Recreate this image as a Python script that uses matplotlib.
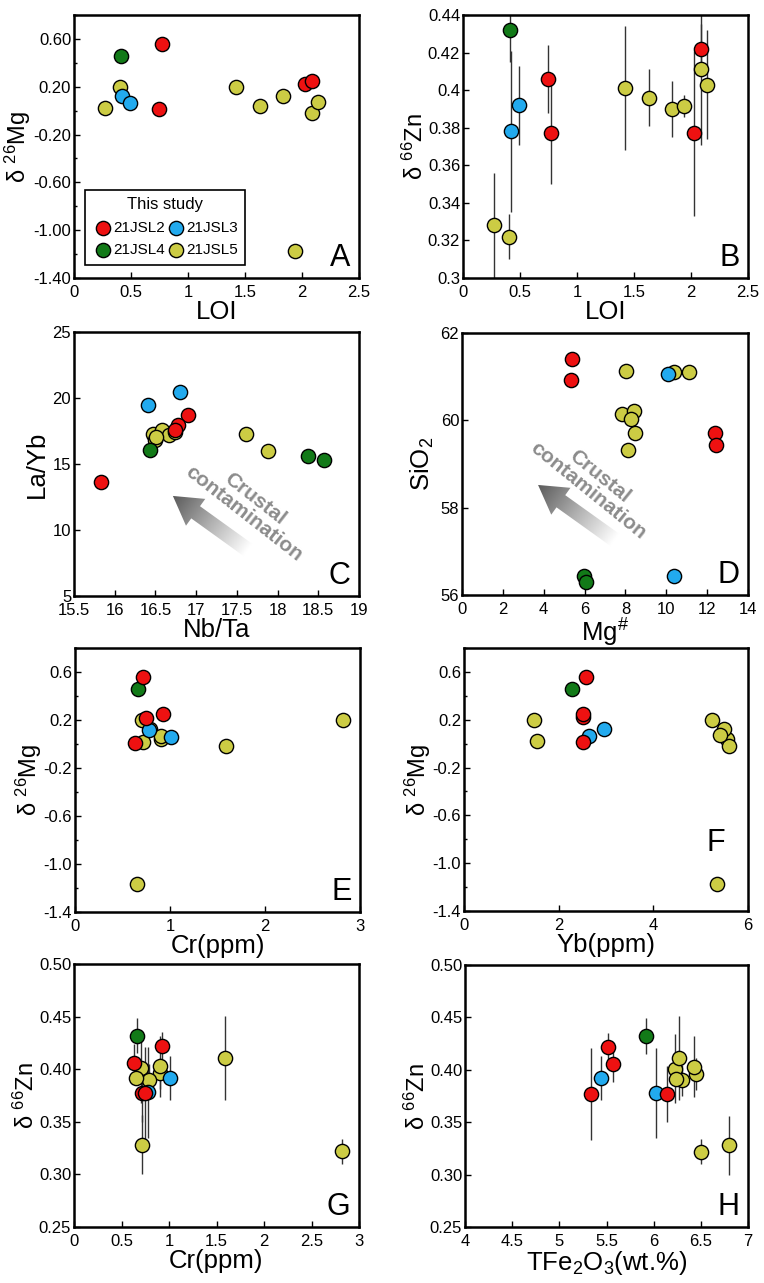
import numpy as np
import matplotlib
matplotlib.use("Agg")
import matplotlib.pyplot as plt
from matplotlib.patches import Polygon
from matplotlib.colors import LinearSegmentedColormap
from matplotlib.ticker import MultipleLocator, FuncFormatter

plt.rcParams['font.family'] = ['Liberation Sans', 'DejaVu Sans']
plt.rcParams['mathtext.fontset'] = 'custom'
plt.rcParams['mathtext.rm'] = 'Liberation Sans'
plt.rcParams['mathtext.it'] = 'Liberation Sans'
plt.rcParams['mathtext.default'] = 'regular'

# sample colours
RED = '#ee1111'
BLUE = '#22aaee'
GREEN = '#127a18'
YELLOW = '#cccc44'

# samples with isotope data (A, B, E, F, G, H)
red_loi = [0.77, 0.745, 2.03, 2.09]
red_mg = [0.56, 0.01, 0.22, 0.25]
red_zn = [0.377, 0.406, 0.377, 0.422]
red_zn_err = [0.027, 0.018, 0.044, 0.013]
red_cr = [0.72, 0.63, 0.75, 0.93]
red_yb = [2.57, 2.51, 2.52, 2.52]
red_fe = [6.14, 5.57, 5.34, 5.52]

green_loi = [0.41]
green_mg = [0.46]
green_zn = [0.432]
green_zn_err = [0.017]
green_cr = [0.66]
green_yb = [2.29]
green_fe = [5.92]

blue_loi = [0.42, 0.49]
blue_mg = [0.12, 0.06]
blue_zn = [0.378, 0.392]
blue_zn_err = [0.043, 0.021]
blue_cr = [0.78, 1.01]
blue_yb = [2.96, 2.64]
blue_fe = [6.02, 5.44]

yellow_loi = [0.27, 0.40, 1.42, 1.63, 1.83, 1.94, 2.09, 2.14]
yellow_mg = [0.02, 0.20, 0.20, 0.04, 0.125, -1.17, -0.02, 0.07]
yellow_zn = [0.328, 0.322, 0.401, 0.396, 0.390, 0.3916, 0.411, 0.403]
yellow_zn_err = [0.028, 0.012, 0.033, 0.015, 0.015, 0.006, 0.040, 0.029]
yellow_cr = [0.72, 2.82, 0.71, 0.91, 0.79, 0.65, 1.59, 0.91]
yellow_yb = [1.55, 1.47, 5.23, 5.55, 5.50, 5.34, 5.60, 5.40]
yellow_fe = [6.80, 6.50, 6.23, 6.45, 6.30, 6.24, 6.27, 6.43]

# Nb/Ta vs La/Yb (panel C)
c_red_x = [15.83, 16.90, 16.78, 16.74]
c_red_y = [13.6, 18.7, 17.95, 17.6]
c_blue_x = [16.41, 16.80]
c_blue_y = [19.45, 20.45]
c_green_x = [16.43, 18.37, 18.57]
c_green_y = [16.05, 15.6, 15.33]
c_yellow_x = [17.61, 17.88, 16.47, 16.50, 16.58, 16.67, 16.74, 16.51]
c_yellow_y = [17.3, 15.95, 17.25, 16.85, 17.55, 17.2, 17.4, 17.05]

# Mg# vs SiO2 (panel D)
d_red_x = [5.38, 5.32, 12.37, 12.45]
d_red_y = [61.40, 60.93, 59.70, 59.43]
d_blue_x = [10.10, 10.39]
d_blue_y = [61.05, 56.44]
d_green_x = [5.95, 6.08]
d_green_y = [56.44, 56.29]
d_yellow_x = [8.04, 10.36, 11.09, 7.83, 8.40, 8.29, 8.45, 8.12]
d_yellow_y = [61.12, 61.11, 61.11, 60.15, 60.21, 60.03, 59.70, 59.32]

groups = [
    dict(name='21JSL5', color=YELLOW, loi=yellow_loi, mg=yellow_mg, zn=yellow_zn, err=yellow_zn_err,
         cr=yellow_cr, yb=yellow_yb, fe=yellow_fe, cx=c_yellow_x, cy=c_yellow_y, dx=d_yellow_x, dy=d_yellow_y),
    dict(name='21JSL3', color=BLUE, loi=blue_loi, mg=blue_mg, zn=blue_zn, err=blue_zn_err,
         cr=blue_cr, yb=blue_yb, fe=blue_fe, cx=c_blue_x, cy=c_blue_y, dx=d_blue_x, dy=d_blue_y),
    dict(name='21JSL4', color=GREEN, loi=green_loi, mg=green_mg, zn=green_zn, err=green_zn_err,
         cr=green_cr, yb=green_yb, fe=green_fe, cx=c_green_x, cy=c_green_y, dx=d_green_x, dy=d_green_y),
    dict(name='21JSL2', color=RED, loi=red_loi, mg=red_mg, zn=red_zn, err=red_zn_err,
         cr=red_cr, yb=red_yb, fe=red_fe, cx=c_red_x, cy=c_red_y, dx=d_red_x, dy=d_red_y),
]

W, H = 764, 1283
fig = plt.figure(figsize=(W / 100, H / 100), dpi=100)


def add_axes(left, top, right, bottom):
    return fig.add_axes([left / W, 1 - bottom / H, (right - left) / W, (bottom - top) / H])


MS = 105
LAB = 18.5
YLAB = 17
D26 = 'δ $^{26}$Mg'
D66 = 'δ $^{66}$Zn'
gfmt = FuncFormatter(lambda v, p: f'{v:g}')


def style(ax, letter, letter_pos=(0.97, 0.02)):
    for s in ax.spines.values():
        s.set_linewidth(1.8)
    ax.tick_params(direction='in', length=4, width=1, labelsize=12)
    ax.tick_params(axis='x', pad=5)
    ax.tick_params(axis='y', pad=2)
    ax.tick_params(which='minor', direction='in', length=2.5, width=1)
    ax.text(letter_pos[0], letter_pos[1], letter, transform=ax.transAxes,
            ha='right', va='bottom', fontsize=22)


def scatter(ax, xkey, ykey, errors=False):
    for g in groups:
        if errors:
            ax.errorbar(g[xkey], g[ykey], yerr=g['err'], fmt='none', ecolor='#333333',
                        elinewidth=1.0, capsize=0, zorder=1)
    for g in groups:
        ax.scatter(g[xkey], g[ykey], s=MS, color=g['color'], edgecolor='black',
                   linewidth=1.0, zorder=3, label=g['name'])


def gradient_arrow(ax, head, tail, shaft=15, head_w=33, head_l=28):
    # arrow geometry built in pixels, then converted to axes fraction
    pos = ax.get_position()
    aw, ah = pos.width * W, pos.height * H
    hx, hy = head[0] * aw, head[1] * ah
    tx, ty = tail[0] * aw, tail[1] * ah
    d = np.array([hx - tx, hy - ty])
    L = np.hypot(*d)
    u = d / L
    n = np.array([-u[1], u[0]])
    t0 = np.array([tx, ty])
    base = t0 + u * (L - head_l)
    pts = [t0 + n * shaft / 2, base + n * shaft / 2, base + n * head_w / 2,
           np.array([hx, hy]), base - n * head_w / 2, base - n * shaft / 2, t0 - n * shaft / 2]
    pts = [(p[0] / aw, p[1] / ah) for p in pts]
    poly = Polygon(pts, closed=True, facecolor='none', edgecolor='none', transform=ax.transAxes)
    ax.add_patch(poly)
    gx, gy = np.meshgrid(np.linspace(0, 1, 300), np.linspace(0, 1, 300))
    proj = ((gx * aw - tx) * u[0] + (gy * ah - ty) * u[1]) / L
    cmap = LinearSegmentedColormap.from_list('g', ['#ffffff', '#b0b0b0', '#5a5a5a'])
    im = ax.imshow(np.clip(proj, 0, 1), extent=(0, 1, 0, 1), origin='lower', cmap=cmap,
                   vmin=0, vmax=1, transform=ax.transAxes, aspect='auto', zorder=1,
                   interpolation='bilinear')
    im.set_clip_path(poly)


def mg_yaxis(ax, fmt):
    ax.set_ylim(-1.4, 0.8)
    ax.set_yticks([0.6, 0.2, -0.2, -0.6, -1.0, -1.4])
    ax.yaxis.set_minor_locator(MultipleLocator(0.2))
    ax.yaxis.set_major_formatter(FuncFormatter(lambda v, p: fmt.format(v)))


# A: LOI vs d26Mg
axA = add_axes(74, 15, 359, 278)
scatter(axA, 'loi', 'mg')
axA.set_xlim(0, 2.5)
axA.xaxis.set_major_locator(MultipleLocator(0.5))
axA.xaxis.set_major_formatter(gfmt)
mg_yaxis(axA, '{:.2f}')
axA.set_xlabel('LOI', fontsize=LAB, labelpad=0)
axA.set_ylabel(D26, fontsize=YLAB, labelpad=0)
style(axA, 'A')
h, l = axA.get_legend_handles_labels()
order = [l.index(n) for n in ['21JSL2', '21JSL4', '21JSL3', '21JSL5']]
leg = axA.legend([h[i] for i in order], [l[i] for i in order], ncol=2, title='This study',
                 loc='lower left', bbox_to_anchor=(0.04, 0.05), fontsize=11, title_fontsize=12,
                 handletextpad=0.0, columnspacing=0.1, handlelength=1.3, borderpad=0.5,
                 labelspacing=0.55, fancybox=False, edgecolor='black', framealpha=1,
                 borderaxespad=0)
leg.get_frame().set_linewidth(1.2)

# B: LOI vs d66Zn
axB = add_axes(463, 15, 748, 278)
scatter(axB, 'loi', 'zn', errors=True)
axB.set_xlim(0, 2.5)
axB.set_ylim(0.3, 0.44)
axB.xaxis.set_major_locator(MultipleLocator(0.5))
axB.yaxis.set_major_locator(MultipleLocator(0.02))
axB.xaxis.set_major_formatter(gfmt)
axB.yaxis.set_major_formatter(FuncFormatter(lambda v, p: f'{round(v, 2):g}'))
axB.set_xlabel('LOI', fontsize=LAB, labelpad=0)
axB.set_ylabel(D66, fontsize=YLAB, labelpad=0)
style(axB, 'B')

# C: Nb/Ta vs La/Yb
axC = add_axes(74, 332, 359, 596)
gradient_arrow(axC, (0.347, 0.379), (0.611, 0.174))
scatter(axC, 'cx', 'cy')
axC.set_xlim(15.5, 19)
axC.set_ylim(5, 25)
axC.xaxis.set_major_locator(MultipleLocator(0.5))
axC.yaxis.set_major_locator(MultipleLocator(5))
axC.xaxis.set_major_formatter(gfmt)
axC.text(0.615, 0.34, 'Crustal\ncontamination', transform=axC.transAxes, rotation=-38,
         rotation_mode='anchor', ha='center', va='center', fontsize=15, fontweight='bold',
         color='#8c8c8c', linespacing=1.0)
axC.set_xlabel('Nb/Ta', fontsize=LAB, labelpad=0)
axC.set_ylabel('La/Yb', fontsize=LAB, labelpad=3)
style(axC, 'C')

# D: Mg# vs SiO2
axD = add_axes(462, 333, 748, 595)
gradient_arrow(axD, (0.266, 0.420), (0.535, 0.210))
scatter(axD, 'dx', 'dy')
axD.set_xlim(0, 14)
axD.set_ylim(56, 62)
axD.xaxis.set_major_locator(MultipleLocator(2))
axD.yaxis.set_major_locator(MultipleLocator(2))
axD.text(0.46, 0.425, 'Crustal\ncontamination', transform=axD.transAxes, rotation=-39,
         rotation_mode='anchor', ha='center', va='center', fontsize=15, fontweight='bold',
         color='#8c8c8c', linespacing=1.0)
axD.set_xlabel('Mg$^{\\#}$', fontsize=LAB, labelpad=0)
axD.set_ylabel('SiO$_2$', fontsize=LAB, labelpad=3)
style(axD, 'D')

# E: Cr vs d26Mg
axE = add_axes(75, 648, 360, 912)
scatter(axE, 'cr', 'mg')
axE.set_xlim(0, 3)
axE.xaxis.set_major_locator(MultipleLocator(1))
mg_yaxis(axE, '{:.1f}')
axE.set_xlabel('Cr(ppm)', fontsize=LAB, labelpad=0)
axE.set_ylabel(D26, fontsize=YLAB, labelpad=0)
style(axE, 'E')

# F: Yb vs d26Mg
axF = add_axes(464, 648, 748, 911)
scatter(axF, 'yb', 'mg')
axF.set_xlim(0, 6)
axF.xaxis.set_major_locator(MultipleLocator(2))
mg_yaxis(axF, '{:.1f}')
axF.set_xlabel('Yb(ppm)', fontsize=LAB, labelpad=0)
axF.set_ylabel(D26, fontsize=YLAB, labelpad=0)
style(axF, 'F', letter_pos=(0.92, 0.20))

# G: Cr vs d66Zn
axG = add_axes(74, 964, 359, 1227)
scatter(axG, 'cr', 'zn', errors=True)
axG.set_xlim(0, 3)
axG.set_ylim(0.25, 0.50)
axG.xaxis.set_major_locator(MultipleLocator(0.5))
axG.yaxis.set_major_locator(MultipleLocator(0.05))
axG.xaxis.set_major_formatter(gfmt)
axG.yaxis.set_major_formatter(FuncFormatter(lambda v, p: f'{v:.2f}'))
axG.set_xlabel('Cr(ppm)', fontsize=LAB, labelpad=0)
axG.set_ylabel(D66, fontsize=YLAB, labelpad=0)
style(axG, 'G')

# H: TFe2O3 vs d66Zn
axH = add_axes(465, 965, 748, 1227)
scatter(axH, 'fe', 'zn', errors=True)
axH.set_xlim(4, 7)
axH.set_ylim(0.25, 0.50)
axH.xaxis.set_major_locator(MultipleLocator(0.5))
axH.yaxis.set_major_locator(MultipleLocator(0.05))
axH.xaxis.set_major_formatter(gfmt)
axH.yaxis.set_major_formatter(FuncFormatter(lambda v, p: f'{v:.2f}'))
axH.set_xlabel('TFe$_2$O$_3$(wt.%)', fontsize=LAB, labelpad=0)
axH.set_ylabel(D66, fontsize=YLAB, labelpad=0)
style(axH, 'H')

fig.savefig('out.png', dpi=100)
